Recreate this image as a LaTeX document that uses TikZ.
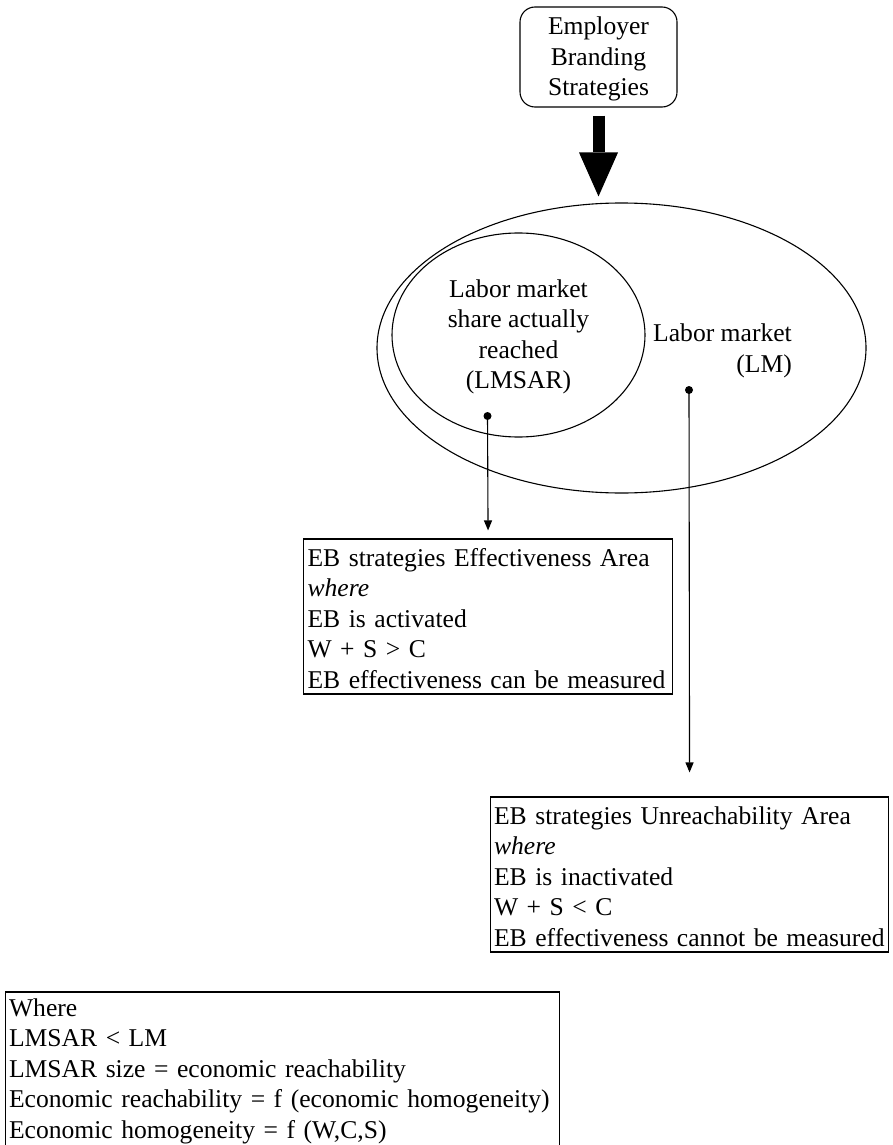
\documentclass[tikz,border=0pt]{standalone}
\usepackage{fontspec}
\setmainfont{Liberation Serif}
\usepackage{tikz}
\usetikzlibrary{arrows.meta,shapes.geometric}
\newcommand{\bodyfont}{\fontsize{25.6}{30.5}\selectfont}
\tikzset{
  areabox/.style={draw, line width=1.1pt, rectangle, align=left,
    inner xsep=4pt, inner ysep=4pt, text height=23pt, text depth=124pt,
    anchor=base west},
  marketring/.style={ellipse, draw, line width=1.1pt, inner sep=0pt},
  reachline/.style={line width=1.1pt, -{Triangle[length=10pt,width=8pt]}},
  dotmark/.style={circle, fill, inner sep=0pt, minimum size=8pt}
}

\begin{document}
\begin{tikzpicture}[x=1pt,y=1pt,font=\bodyfont]
  \useasboundingbox (0,0) rectangle (893,-1145);
  % strategies on top
  \node[draw, line width=1.1pt, rounded corners=15pt, align=center,
    text width=140pt, inner xsep=8.5pt, inner ysep=0pt,
    text height=28pt, text depth=72pt, anchor=base] (eb) at (598.5,-35)
    {Employer\\Branding\\Strategies};
  % labor market and the share reached
  \node[marketring, minimum width=489pt, minimum height=290pt] (lm) at (621.5,-348) {};
  \node[marketring, minimum width=253pt, minimum height=204pt] (lmsar) at (518.5,-335) {};
  \node[align=center, inner sep=0pt] (lmsartxt) at (518.5,-337)
    {Labor market\\share actually\\reached\\(LMSAR)};
  \node[align=right, inner sep=0pt] (lmtxt) at (722.5,-351) {Labor market\\(LM)};
  \draw[line width=12pt, -{Triangle[width=39pt,length=44pt,line width=0pt]},
    shorten <=8pt, shorten >=6pt] (eb.south) -- (eb.south |- lm.north);
  % the two areas
  \node[areabox, text width=361pt] (effect) at (303,-566)
    {EB strategies Effectiveness Area\\\textit{where}\\EB is activated\\W + S > C\\EB effectiveness can be measured};
  \node[areabox, text width=391pt, inner xsep=3.5pt] (unreach) at (490,-824)
    {EB strategies Unreachability Area\\\textit{where}\\EB is inactivated\\W + S < C\\EB effectiveness cannot be measured};
  % note at the bottom
  \node[areabox, text width=547pt, inner xsep=3.5pt, text height=20pt, text depth=128pt] (where) at (5,-1016)
    {Where\\LMSAR < LM\\LMSAR size = economic reachability\\Economic reachability = f (economic homogeneity)\\Economic homogeneity = f (W,C,S)};
  % dots and pointers
  \node[dotmark] (sardot) at (487.5,-416) {};
  \node[dotmark] (lmdot) at (689,-390) {};
  \draw[reachline] (sardot.center) -- ([yshift=8pt]effect.north);
  \draw[reachline] (lmdot.center) -- ([yshift=24pt]unreach.north);
\end{tikzpicture}
\end{document}
